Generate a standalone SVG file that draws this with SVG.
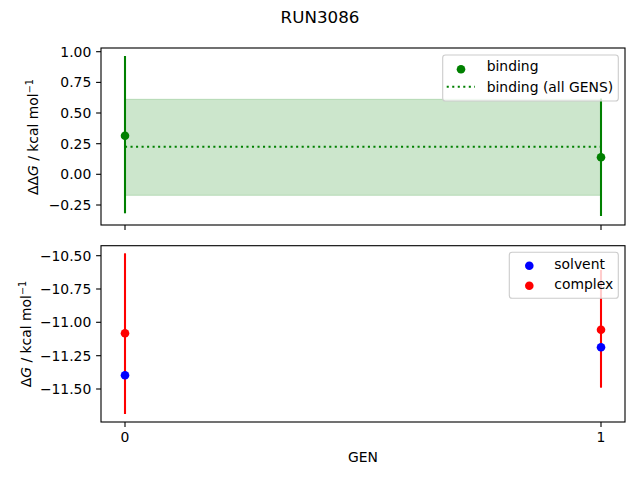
<svg xmlns="http://www.w3.org/2000/svg" width="640" height="480" viewBox="0 0 640 480">
<style>
text{font-family:"DejaVu Sans","Liberation Sans",sans-serif;fill:#000}
.tk{font-size:13.9px}
.yt{text-anchor:end}
.xt{text-anchor:middle}
.spine{fill:none;stroke:#000;stroke-width:1.11}
.tick{stroke:#000;stroke-width:1.11}
.leg{fill:#fff;fill-opacity:0.8;stroke:#cccccc;stroke-width:1.11}
</style>
<rect width="640" height="480" fill="#fff"/>
<text x="320" y="22.5" font-size="16.7" text-anchor="middle">RUN3086</text>

<g id="top-axes">
  <rect x="125" y="99.3" width="476" height="96" fill="#008000" fill-opacity="0.2" stroke="#008000" stroke-opacity="0.2" stroke-width="1"/>
  <line x1="125" y1="146.7" x2="601" y2="146.7" stroke="#008000" stroke-width="2.08" stroke-dasharray="2.08 3.44"/>
  <g id="binding-gen0">
    <line x1="125" y1="56" x2="125" y2="213.3" stroke="#008000" stroke-width="2.08"/>
    <circle cx="125" cy="135.7" r="4.3" fill="#008000"/>
  </g>
  <g id="binding-gen1">
    <line x1="601" y1="98.6" x2="601" y2="216" stroke="#008000" stroke-width="2.08"/>
    <circle cx="601" cy="157.3" r="4.3" fill="#008000"/>
  </g>
  <rect class="spine" x="101" y="48" width="524" height="177"/>
  <g class="tick">
    <line x1="96.1" y1="51.7" x2="101" y2="51.7"/>
    <line x1="96.1" y1="82.4" x2="101" y2="82.4"/>
    <line x1="96.1" y1="113" x2="101" y2="113"/>
    <line x1="96.1" y1="143.7" x2="101" y2="143.7"/>
    <line x1="96.1" y1="174.3" x2="101" y2="174.3"/>
    <line x1="96.1" y1="205" x2="101" y2="205"/>
    <line x1="125" y1="225" x2="125" y2="229.9"/>
    <line x1="601" y1="225" x2="601" y2="229.9"/>
  </g>
  <g class="tk yt">
    <text x="91.3" y="56.7">1.00</text>
    <text x="91.3" y="87.4">0.75</text>
    <text x="91.3" y="118">0.50</text>
    <text x="91.3" y="148.7">0.25</text>
    <text x="91.3" y="179.3">0.00</text>
    <text x="91.3" y="210">−0.25</text>
  </g>
  <text class="tk" transform="translate(37.5,137) rotate(-90)" text-anchor="middle">ΔΔ<tspan font-style="oblique">G</tspan> / kcal mol<tspan font-size="9.7" dy="-5">−1</tspan></text>
  <g id="legend-top">
    <rect class="leg" x="442.7" y="55" width="175.6" height="46" rx="2.8"/>
    <circle cx="461" cy="69.3" r="4.3" fill="#008000"/>
    <line x1="446.7" y1="86.7" x2="475" y2="86.7" stroke="#008000" stroke-width="2.08" stroke-dasharray="2.08 3.44"/>
    <text class="tk" x="486.7" y="70.5">binding</text>
    <text class="tk" x="486.7" y="91.7">binding (all GENS)</text>
  </g>
</g>

<g id="bottom-axes">
  <g id="complex-gen0">
    <line x1="125" y1="253.3" x2="125" y2="414" stroke="#ff0000" stroke-width="2.08"/>
    <circle cx="125" cy="333.3" r="4.3" fill="#ff0000"/>
  </g>
  <g id="complex-gen1">
    <line x1="601" y1="270" x2="601" y2="387.7" stroke="#ff0000" stroke-width="2.08"/>
    <circle cx="601" cy="329.7" r="4.3" fill="#ff0000"/>
  </g>
  <circle id="solvent-gen0" cx="125" cy="375.3" r="4.3" fill="#0000ff"/>
  <circle id="solvent-gen1" cx="601" cy="347.3" r="4.3" fill="#0000ff"/>
  <rect class="spine" x="101" y="245.7" width="524" height="176.3"/>
  <g class="tick">
    <line x1="96.1" y1="255.7" x2="101" y2="255.7"/>
    <line x1="96.1" y1="289" x2="101" y2="289"/>
    <line x1="96.1" y1="322.3" x2="101" y2="322.3"/>
    <line x1="96.1" y1="355.7" x2="101" y2="355.7"/>
    <line x1="96.1" y1="389" x2="101" y2="389"/>
    <line x1="125" y1="422" x2="125" y2="426.9"/>
    <line x1="601" y1="422" x2="601" y2="426.9"/>
  </g>
  <g class="tk yt">
    <text x="91.3" y="260.7">−10.50</text>
    <text x="91.3" y="294">−10.75</text>
    <text x="91.3" y="327.3">−11.00</text>
    <text x="91.3" y="360.7">−11.25</text>
    <text x="91.3" y="394">−11.50</text>
  </g>
  <g class="tk xt">
    <text x="125" y="442">0</text>
    <text x="601" y="442">1</text>
  </g>
  <text class="tk" x="363" y="461.7" text-anchor="middle">GEN</text>
  <text class="tk" transform="translate(30.5,334) rotate(-90)" text-anchor="middle">Δ<tspan font-style="oblique">G</tspan> / kcal mol<tspan font-size="9.7" dy="-5">−1</tspan></text>
  <g id="legend-bottom">
    <rect class="leg" x="509.3" y="252.3" width="109" height="46" rx="2.8"/>
    <circle cx="529.3" cy="265.7" r="4.3" fill="#0000ff"/>
    <circle cx="529.3" cy="285.7" r="4.3" fill="#ff0000"/>
    <text class="tk" x="554.3" y="268.5">solvent</text>
    <text class="tk" x="554.3" y="288.5">complex</text>
  </g>
</g>
</svg>
